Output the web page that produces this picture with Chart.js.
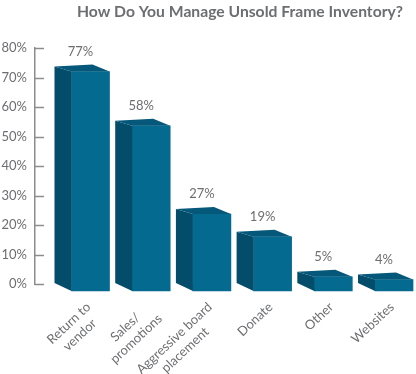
<!DOCTYPE html>
<html>
<head>
<meta charset="utf-8">
<script src="https://cdn.jsdelivr.net/npm/chart.js@4.4.0/dist/chart.umd.min.js"></script>
<style>
  html, body { margin: 0; padding: 0; background: #ffffff; }
  #wrap { width: 416px; height: 374px; position: relative; }
</style>
</head>
<body>
<div id="wrap"><canvas id="c"></canvas></div>
<script>
// ---- data ----
const titleText = "How Do You Manage Unsold Frame Inventory?";
const categories = [["Return to", "vendor"], ["Sales/", "promotions"], ["Aggressive board", "placement"], ["Donate"], ["Other"], ["Websites"]];
const values = [77, 58, 27, 19, 5, 4];
const yTickValues = [0, 10, 20, 30, 40, 50, 60, 70, 80];

const GREY = "#6d6e71";
const FRONT = "#046a8f";
const SIDE = "#034c6a";
const TOP = "#05587a";
const FONT = "Lato, 'Open Sans', sans-serif";

const points = values.map((v, i) => ({ x: i, y: v }));

const threeD = {
  id: "threeD",
  afterDatasetsDraw(chart) {
    const ctx = chart.ctx;
    const meta = chart.getDatasetMeta(0);
    ctx.save();
    meta.data.forEach((bar, i) => {
      const w = bar.width;
      const x0 = bar.x - w / 2, x1 = bar.x + w / 2;
      const top = bar.y, bottom = bar.base;
      // side face
      ctx.fillStyle = SIDE;
      ctx.beginPath();
      ctx.moveTo(x0, top);
      ctx.lineTo(x0 - 17, top - 5);
      ctx.lineTo(x0 - 17, bottom - 8);
      ctx.lineTo(x0, bottom);
      ctx.closePath();
      ctx.fill();
      // top face
      ctx.fillStyle = TOP;
      ctx.beginPath();
      ctx.moveTo(x0, top);
      ctx.lineTo(x1, top);
      ctx.lineTo(x1 - 17, top - 7);
      ctx.lineTo(x0 - 17, top - 5);
      ctx.closePath();
      ctx.fill();
      // value label
      ctx.fillStyle = GREY;
      ctx.font = "13px " + FONT;
      ctx.textAlign = "center";
      ctx.textBaseline = "middle";
      ctx.fillText(values[i] + "%", bar.x - 10, top - 20);
    });
    ctx.restore();
  },
  afterDraw(chart) {
    const ctx = chart.ctx;
    const ys = chart.scales.y;
    const xs = chart.scales.x;
    ctx.save();
    // inward tick marks
    ctx.strokeStyle = "#8c8c8c";
    ctx.lineWidth = 1.5;
    yTickValues.forEach(v => {
      const py = Math.round(ys.getPixelForValue(v)) + 0.5;
      ctx.beginPath();
      ctx.moveTo(ys.right, py);
      ctx.lineTo(ys.right + 9, py);
      ctx.stroke();
    });
    // rotated category labels, lines centered
    ctx.fillStyle = GREY;
    ctx.font = "13px " + FONT;
    ctx.textAlign = "center";
    ctx.textBaseline = "middle";
    const lh = 16;
    const ang = -43 * Math.PI / 180;
    categories.forEach((lines, i) => {
      const px = xs.getPixelForValue(i);
      const W = Math.max(...lines.map(l => ctx.measureText(l).width));
      ctx.save();
      ctx.translate(px - 2, ys.bottom + 21);
      ctx.rotate(ang);
      lines.forEach((l, j) => ctx.fillText(l, -W / 2, j * lh));
      ctx.restore();
    });
    ctx.restore();
  }
};

new Chart(document.getElementById("c"), {
  type: "bar",
  data: {
    datasets: [{
      data: points,
      yAxisID: "yb",
      base: 0,
      backgroundColor: FRONT,
      borderWidth: 0,
      barThickness: 38,
      clip: false
    }]
  },
  options: {
    responsive: true,
    maintainAspectRatio: false,
    animation: false,
    layout: { padding: { left: 0, right: 13, top: 0, bottom: 90 } },
    plugins: {
      legend: { display: false },
      tooltip: { enabled: false },
      title: {
        display: true,
        text: titleText,
        align: "end",
        color: GREY,
        font: { family: FONT, size: 15.7, weight: "bold", lineHeight: 1.2 },
        padding: { top: 3, bottom: 26.2 }
      }
    },
    scales: {
      x: {
        type: "linear",
        offset: false,
        min: -0.9143,
        max: 5.148,
        display: false
      },
      y: {
        position: "left",
        min: 0,
        max: 80,
        afterFit(s) { s.width = 35; },
        ticks: {
          stepSize: 10,
          padding: 8,
          color: GREY,
          font: { family: FONT, size: 13 },
          callback: v => v + "%"
        },
        grid: { display: true, drawOnChartArea: false, drawTicks: false },
        border: { display: true, color: "#8c8c8c", width: 1.5 }
      },
      yb: {
        position: "left",
        display: false,
        min: 2.456,
        max: 85.26
      }
    }
  },
  plugins: [threeD]
});
</script>
</body>
</html>
